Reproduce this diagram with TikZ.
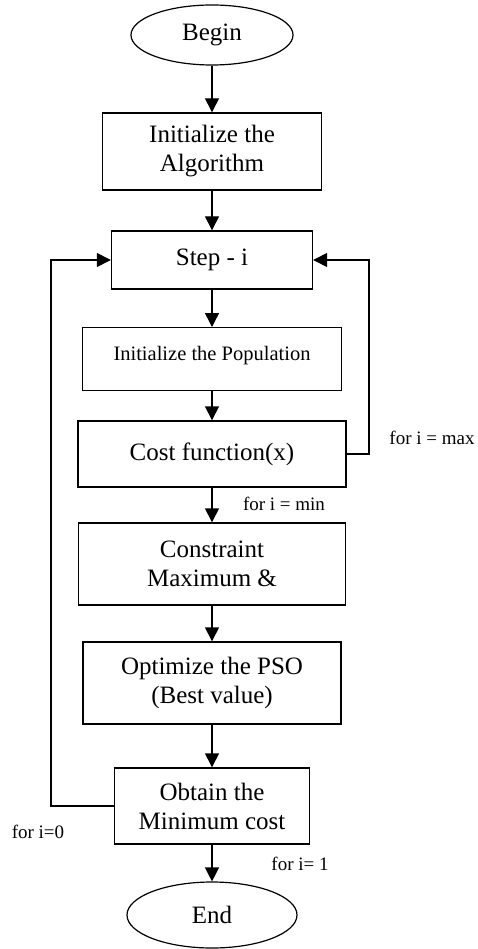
\documentclass[tikz,border=0pt]{standalone}
\usepackage{fontspec}
\setmainfont{Liberation Serif}
\usepackage{tikz}
\usetikzlibrary{arrows.meta,shapes.geometric}
\tikzset{
  box/.style={draw,line width=1.4pt,rectangle,inner sep=6pt,align=center,font=\fontsize{25}{29}\selectfont},
  oval/.style={draw,line width=1.2pt,ellipse,inner sep=0pt,font=\fontsize{25}{29}\selectfont},
  flow/.style={line width=1.4pt,-{Triangle[length=14pt,width=14pt]}},
  lbl/.style={font=\fontsize{19}{23}\selectfont}
}

\begin{document}
\begin{tikzpicture}[x=1pt,y=-1pt]
  \useasboundingbox (0,0) rectangle (477,949);
  % main column
  \node[oval,minimum width=162pt,minimum height=60pt] (begin) at (212,35) {Begin};
  \node[box,minimum width=219pt,minimum height=77pt] (algo) at (212,151.5) {Initialize the\\Algorithm};
  \node[box,minimum width=201pt,minimum height=58pt] (step) at (212,260) {Step - i};
  \node[box,anchor=north,minimum width=259pt,minimum height=63pt,text height=24pt,text depth=21pt,
        font=\fontsize{20.5}{24}\selectfont] (pop) at (212,327) {Initialize the Population};
  \node[box,minimum width=268pt,minimum height=66pt] (cost) at (212,454) {Cost function(x)};
  \node[box,minimum width=267pt,minimum height=82pt] (cons) at (212,564) {Constraint\\Maximum \&};
  \node[box,minimum width=258pt,minimum height=82pt] (pso) at (212,683) {Optimize the PSO\\(Best value)};
  \node[box,minimum width=195pt,minimum height=76pt] (obtain) at (212,806) {Obtain the\\Minimum cost};
  \node[oval,minimum width=170pt,minimum height=66pt] (end) at (212,915) {End};
  % straight arrows
  \draw[flow] (begin) -- (algo);
  \draw[flow] (algo) -- (step);
  \draw[flow] (step) -- (pop);
  \draw[flow] (pop) -- (cost);
  \draw[flow] (cost) -- (cons);
  \draw[flow] (cons) -- (pso);
  \draw[flow] (pso) -- (obtain);
  \draw[flow] (obtain) -- (end);
  % loops back to step
  \coordinate (rgt) at (369,0);
  \coordinate (lft) at (51,0);
  \draw[flow] (cost.east) -- (cost.east -| rgt) -- (step.east -| rgt) -- (step.east);
  \draw[flow] (obtain.west) -- (obtain.west -| lft) -- (step.west -| lft) -- (step.west);
  % labels
  \node[lbl] (lmax) at (432,438) {for i = max};
  \node[lbl] (lmin) at (284,504) {for i = min};
  \node[lbl] (lzero) at (38,832) {for i=0};
  \node[lbl] (lone) at (300,864) {for i= 1};
\end{tikzpicture}
\end{document}
